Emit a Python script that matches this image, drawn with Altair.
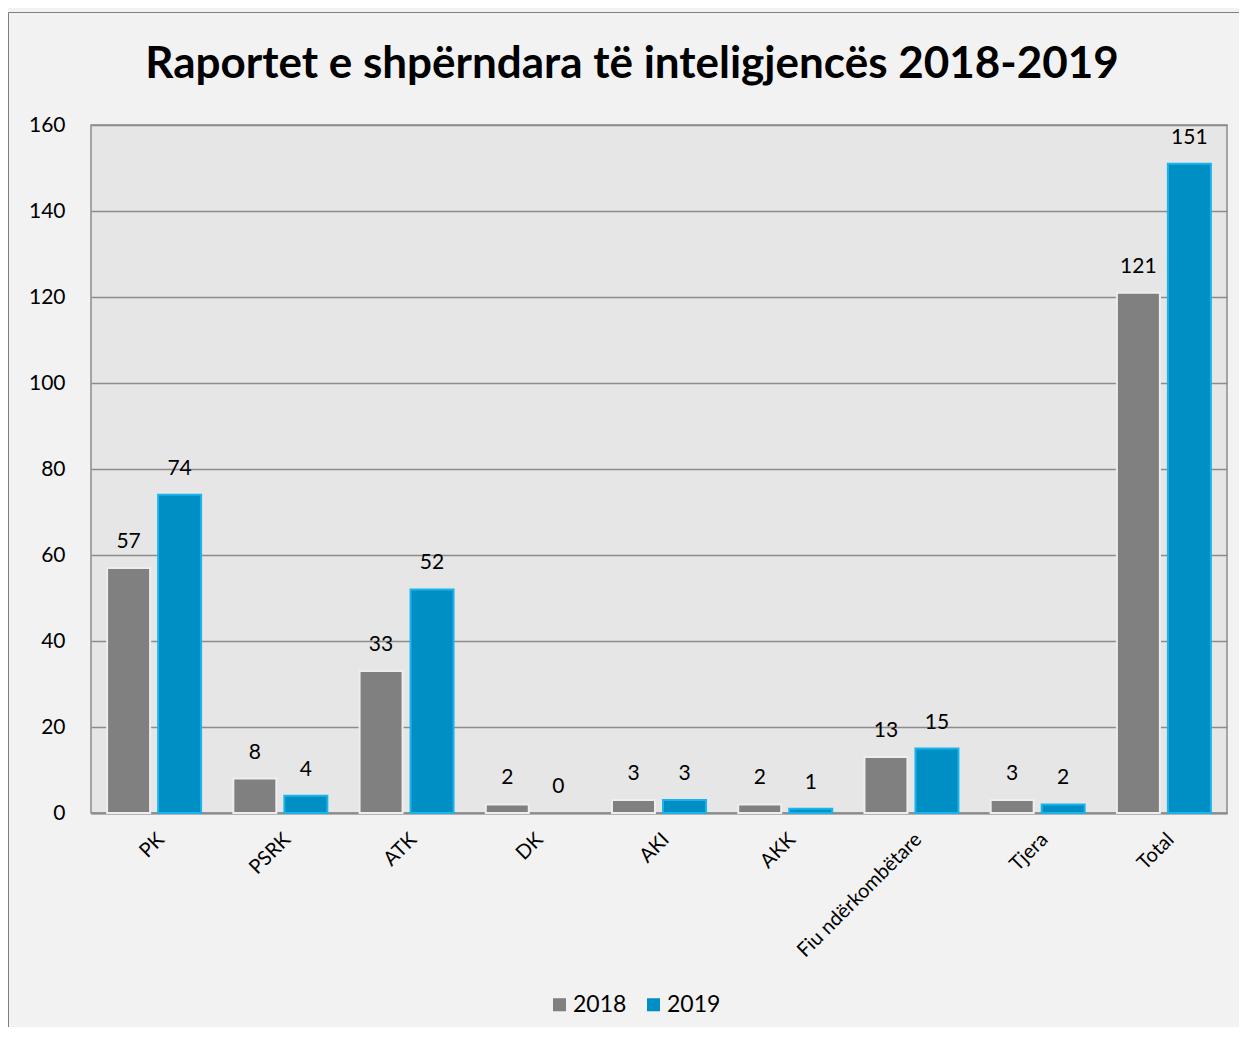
import altair as alt
import pandas as pd

categories = ["PK", "PSRK", "ATK", "DK", "AKI", "AKK", "Fiu ndërkombëtare", "Tjera", "Total"]
years = ["2018", "2019"]
v2018 = [57, 8, 33, 2, 3, 2, 13, 3, 121]
v2019 = [74, 4, 52, 0, 3, 1, 15, 2, 151]
title_text = "Raportet e shpërndara të inteligjencës 2018-2019"

rows = []
for c, a, b in zip(categories, v2018, v2019):
    rows.append({"cat": c, "year": "2018", "value": a})
    rows.append({"cat": c, "year": "2019", "value": b})
df = pd.DataFrame(rows)

W, H = 1136, 688
FONT = "Lato"

x = alt.X("cat:N", sort=categories, title=None,
          scale=alt.Scale(paddingInner=0, paddingOuter=0),
          axis=alt.Axis(labelAngle=-45, labelFontSize=20, labelFont=FONT, labelColor="#000000",
                        ticks=False, domainColor="#8c8c8c", domainWidth=2, labelPadding=16))
xo = alt.XOffset("year:N", sort=years, scale=alt.Scale(paddingInner=0.157, paddingOuter=0.316))
y = alt.Y("value:Q", title=None,
          scale=alt.Scale(domain=[0, 160], nice=False),
          axis=alt.Axis(values=list(range(0, 161, 20)), labelFontSize=21, labelFont=FONT,
                        labelColor="#000000", ticks=False, domain=False, labelPadding=26,
                        gridColor="#8c8c8c", gridWidth=1.5))
color = alt.Color("year:N", sort=years,
                  scale=alt.Scale(domain=years, range=["#808080", "#008fc4"]),
                  legend=alt.Legend(title=None, orient="none", direction="horizontal",
                                    legendX=457, legendY=868, symbolType="square", symbolSize=170,
                                    symbolStrokeWidth=0, labelFontSize=23, labelFont=FONT,
                                    labelColor="#000000", columnPadding=15, labelOffset=2))

frame = alt.Chart(pd.DataFrame({"k": [0]})).mark_rect(
    fill=None, stroke="#7f7f7f", strokeWidth=1
).encode(x=alt.value(-82.5), x2=alt.value(W + 200), y=alt.value(-112.5), y2=alt.value(H + 400))

title = alt.Chart(pd.DataFrame({"t": [title_text]})).mark_text(
    font=FONT, fontSize=44, fontWeight="bold", color="#000000", baseline="alphabetic", align="center"
).encode(x=alt.value(W / 2 - 27), y=alt.value(-47), text="t:N")

bars = alt.Chart(df).mark_bar(strokeWidth=2).encode(
    x=x, xOffset=xo, y=y, color=color,
    stroke=alt.condition(alt.datum.year == "2018", alt.value("#eeeeee"), alt.value("#1ab4ec")),
    strokeOpacity=alt.condition(alt.datum.value == 0, alt.value(0), alt.value(1)),
)

labels = alt.Chart(df).mark_text(fontSize=21, font=FONT, color="#000000", baseline="alphabetic", dy=-20).encode(
    x=alt.X("cat:N", sort=categories), xOffset=alt.XOffset("year:N", sort=years), y="value:Q",
    text="value:Q",
)

chart = alt.layer(frame, title, bars, labels).properties(
    width=W, height=H,
    autosize=alt.AutoSizeParams(type="none"),
    padding={"left": 83, "top": 117, "right": 12, "bottom": 214},
    background="#f2f2f2",
).configure_view(fill="#e6e6e6", stroke="#8c8c8c", strokeWidth=1.5)

chart.save("out.html", embed_options={"renderer": "svg", "actions": False})
